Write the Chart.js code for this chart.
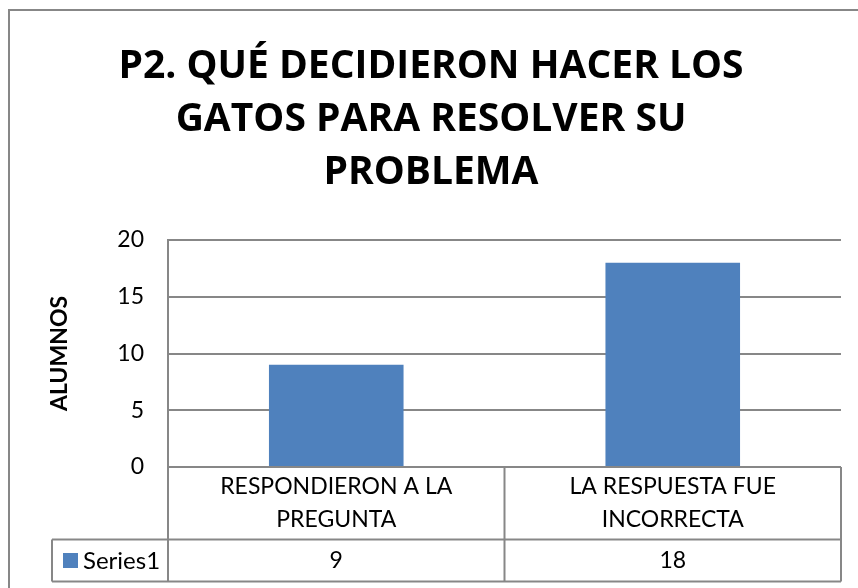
<!DOCTYPE html>
<html>
<head>
<meta charset="utf-8">
<script src="https://cdn.jsdelivr.net/npm/chart.js@4/dist/chart.umd.min.js"></script>
<style>
  html, body { margin: 0; padding: 0; background: #fff; }
  #wrap { width: 858px; height: 588px; }
</style>
</head>
<body>
<div id="wrap"><canvas id="c" width="858" height="588"></canvas></div>
<script>
const titleLines = ["P2. QUÉ DECIDIERON HACER LOS", "GATOS PARA RESOLVER SU", "PROBLEMA"];
const categories = [["RESPONDIERON A LA", "PREGUNTA"], ["LA RESPUESTA FUE", "INCORRECTA"]];
const seriesName = "Series1";
const values = [9, 18];
const yAxisTitle = "ALUMNOS";
const yMin = 0, yMax = 20, yStep = 5;

const BAR = "#4F81BD";
const LINE = "#878787";
const FONT = "Lato";

const frame = {
  id: "frame",
  beforeDraw(chart) {
    const ctx = chart.ctx;
    ctx.save();
    ctx.fillStyle = "#fff";
    ctx.fillRect(0, 0, chart.width, chart.height);
    ctx.strokeStyle = LINE;
    ctx.lineWidth = 2;
    ctx.strokeRect(9, 10, chart.width + 20, chart.height + 20);
    // title
    ctx.fillStyle = "#000";
    ctx.font = "bold 39px 'Open Sans'";
    ctx.textAlign = "center";
    ctx.textBaseline = "alphabetic";
    const base = [78, 131, 184];
    titleLines.forEach((t, i) => ctx.fillText(t, 431, base[i]));
    ctx.restore();
  }
};

const table = {
  id: "table",
  afterDraw(chart) {
    const ctx = chart.ctx;
    const xs = chart.scales.x;
    const ca = chart.chartArea;
    const y0 = ca.bottom, y1 = 539.5, y2 = 581.5;
    const left = 52, axisX = ca.left, right = ca.right;
    ctx.save();
    ctx.strokeStyle = LINE;
    ctx.lineWidth = 2;
    ctx.beginPath();
    // horizontals
    ctx.moveTo(left, y1); ctx.lineTo(right, y1);
    ctx.moveTo(left, y2); ctx.lineTo(right, y2);
    ctx.moveTo(axisX, y0); ctx.lineTo(right, y0);
    // verticals
    ctx.moveTo(left, y1); ctx.lineTo(left, y2);
    ctx.moveTo(axisX, ca.top); ctx.lineTo(axisX, y2);
    const n = categories.length;
    for (let i = 0; i < n; i++) {
      const c = xs.getPixelForValue(i);
      const half = (xs.getPixelForValue(1) - xs.getPixelForValue(0)) / 2;
      const bx = c + half;
      ctx.moveTo(bx, y0); ctx.lineTo(bx, y2);
    }
    ctx.stroke();
    // texts
    ctx.fillStyle = "#000";
    ctx.textAlign = "center";
    ctx.textBaseline = "middle";
    ctx.font = "23px " + FONT;
    categories.forEach((lines, i) => {
      const c = xs.getPixelForValue(i);
      lines.forEach((t, j) => ctx.fillText(t, c, 487 + j * 33));
      ctx.fillText(String(values[i]), c, 561);
    });
    // legend key
    ctx.fillStyle = BAR;
    ctx.fillRect(63, 553, 15, 15);
    ctx.fillStyle = "#000";
    ctx.textAlign = "left";
    ctx.font = "24px " + FONT;
    ctx.fillText(seriesName, 83, 561);
    ctx.restore();
  }
};

new Chart(document.getElementById("c"), {
  type: "bar",
  data: {
    labels: categories,
    datasets: [{
      label: seriesName,
      data: values,
      backgroundColor: BAR,
      borderWidth: 0,
      barPercentage: 0.4,
      categoryPercentage: 1.0
    }]
  },
  options: {
    responsive: false,
    animation: false,
    devicePixelRatio: 1,
    layout: { padding: { left: 0, top: 240, right: 17, bottom: 121 } },
    plugins: {
      legend: { display: false },
      title: { display: false },
      tooltip: { enabled: false }
    },
    scales: {
      x: {
        display: false
      },
      y: {
        min: yMin, max: yMax,
        afterFit(scale) { scale.width = 168; },
        ticks: {
          stepSize: yStep,
          padding: 24,
          color: "#000",
          font: { family: FONT, size: 23 }
        },
        grid: { color: LINE, lineWidth: 2, drawTicks: false },
        border: { display: true, color: LINE, width: 2 },
        title: {
          display: true,
          text: yAxisTitle,
          color: "#000",
          font: { family: FONT, size: 23, weight: "bold" },
          padding: { top: 46, bottom: 0 }
        }
      }
    }
  },
  plugins: [frame, table]
});
</script>
</body>
</html>
